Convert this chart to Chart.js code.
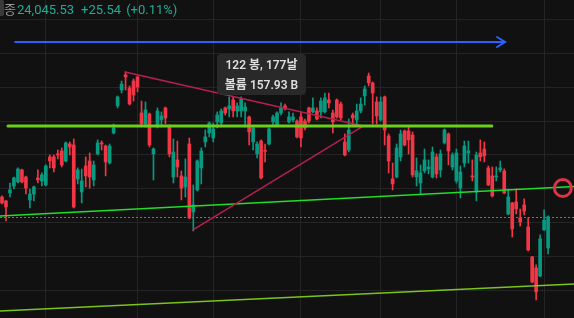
<!DOCTYPE html>
<html lang="ko">
<head>
<meta charset="utf-8">
<title>일봉 차트</title>
<script src="https://cdn.jsdelivr.net/npm/chart.js@4.4.1/dist/chart.umd.min.js"></script>
<style>
	html, body { margin: 0; padding: 0; background: #111111; }
	#wrap { position: relative; width: 574px; height: 318px; overflow: hidden; }
	#chart { position: absolute; left: 0; top: 0; }
	#legend { position: absolute; left: 4px; top: 2px; font: 13px Roboto, "Noto Sans CJK KR", sans-serif; line-height: 15px; color: #22ab94; white-space: nowrap; }
	#legend .name { color: #9a9a9a; margin-right: 1px; }
	#legend .chg { margin-left: 7px; }
	#legend .pct { margin-left: 5px; }
	#btn { position: absolute; left: 0; top: 0; width: 4px; height: 16px; background: #3a3a3a; border-radius: 0 2px 2px 0; }
</style>
</head>
<body>
<div id="wrap">
	<canvas id="chart" width="574" height="318"></canvas>
	<div id="legend"><span class="name">종</span><span id="last"></span><span class="chg" id="chg"></span><span class="pct" id="pct"></span></div>
	<div id="btn"></div>
</div>
<script>
// 일봉 OHLC (화면에서 읽은 값)
const opens = [
	24191, 24162, 24221, 24272, 24302, 24390, 24338, 24169, 24213, 24331,
	24309, 24280, 24486, 24486, 24508, 24530, 24456, 24581, 24574, 24324,
	24228, 24419, 24456, 24316, 24508, 24589, 24566, 24441, 24662, 24861,
	24978, 25089, 24993, 25044, 25074, 24809, 24728, 24802, 24508, 24721,
	24758, 24846, 24714, 24338, 24464, 24346, 24265, 24581, 24081, 24243,
	24405, 24596, 24662, 24625, 24743, 24736, 24846, 24839, 24905, 24824,
	24824, 24824, 24780, 24596, 24508, 24603, 24533, 24581, 24743, 24721,
	24809, 24861, 24743, 24758, 24750, 24780, 24750, 24846, 24817, 24824,
	24817, 24817, 24905, 24809, 24905, 24875, 24596, 24537, 24794, 24758,
	24824, 24934, 25081, 25030, 24890, 24758, 24927, 24640, 24324, 24338,
	24486, 24677, 24677, 24647, 24338, 24294, 24383, 24397, 24338, 24486,
	24390, 24589, 24655, 24412, 24309, 24257, 24441, 24515, 24346, 24228,
	24515, 24544, 24405, 24346, 24338, 24390, 24383, 24066, 24147, 24155,
	24037, 24133, 23971, 23750, 23670, 23611, 23949, 23816
];
const highs = [
	24199, 24166, 24294, 24338, 24405, 24397, 24345, 24250, 24272, 24390,
	24368, 24427, 24500, 24500, 24537, 24552, 24596, 24596, 24618, 24405,
	24397, 24486, 24515, 24456, 24611, 24603, 24574, 24581, 24728, 24934,
	25044, 25111, 25008, 25059, 25081, 24897, 24890, 24809, 24552, 24846,
	24817, 24853, 24721, 24618, 24603, 24383, 24471, 24625, 24280, 24464,
	24552, 24684, 24743, 24736, 24817, 24839, 24853, 24927, 24927, 24883,
	24927, 24883, 24787, 24706, 24596, 24611, 24581, 24699, 24794, 24817,
	24883, 24875, 24817, 24809, 24758, 24817, 24765, 24853, 24920, 24846,
	24920, 24956, 24956, 24831, 24912, 24890, 24655, 24765, 24809, 24875,
	24920, 25008, 25103, 25037, 24927, 24927, 24934, 24655, 24441, 24581,
	24684, 24684, 24706, 24670, 24478, 24427, 24544, 24464, 24559, 24508,
	24537, 24692, 24662, 24515, 24544, 24419, 24603, 24603, 24464, 24522,
	24611, 24596, 24419, 24412, 24412, 24456, 24397, 24250, 24152, 24250,
	24103, 24177, 24037, 23755, 23692, 23912, 24096, 24052
];
const lows = [
	24140, 24015, 24191, 24250, 24294, 24294, 24213, 24110, 24162, 24294,
	24272, 24272, 24405, 24375, 24471, 24412, 24449, 24500, 24110, 24287,
	24147, 24265, 24257, 24272, 24500, 24537, 24346, 24434, 24655, 24846,
	24956, 24978, 24868, 24897, 24964, 24721, 24706, 24559, 24316, 24699,
	24706, 24728, 24486, 24294, 24338, 24169, 24191, 24030, 23941, 24235,
	24287, 24559, 24633, 24596, 24699, 24706, 24794, 24780, 24780, 24780,
	24780, 24706, 24574, 24537, 24478, 24324, 24449, 24574, 24721, 24714,
	24794, 24831, 24736, 24743, 24625, 24559, 24684, 24736, 24809, 24758,
	24772, 24809, 24846, 24662, 24772, 24758, 24493, 24522, 24721, 24721,
	24809, 24868, 25008, 24728, 24728, 24750, 24574, 24368, 24243, 24331,
	24456, 24566, 24508, 24338, 24272, 24213, 24368, 24361, 24331, 24331,
	24338, 24581, 24427, 24390, 24294, 24184, 24412, 24441, 24309, 24162,
	24456, 24449, 24275, 24191, 24309, 24375, 24215, 24060, 23897, 24066,
	23978, 24059, 23795, 23559, 23434, 23605, 23945, 23772
];
const closes = [
	24147, 24118, 24243, 24331, 24397, 24302, 24257, 24213, 24265, 24316,
	24353, 24419, 24456, 24405, 24500, 24427, 24589, 24559, 24118, 24390,
	24309, 24346, 24338, 24427, 24589, 24581, 24449, 24566, 24699, 24927,
	25022, 25074, 24875, 24942, 25000, 24728, 24831, 24574, 24544, 24824,
	24787, 24772, 24508, 24522, 24412, 24257, 24338, 24037, 24133, 24456,
	24530, 24633, 24736, 24692, 24794, 24824, 24809, 24861, 24824, 24861,
	24912, 24853, 24670, 24699, 24581, 24331, 24527, 24692, 24780, 24809,
	24846, 24839, 24780, 24780, 24633, 24625, 24699, 24750, 24846, 24765,
	24897, 24920, 24883, 24743, 24780, 24772, 24500, 24684, 24772, 24824,
	24875, 24986, 25030, 24956, 24787, 24890, 24684, 24456, 24287, 24552,
	24655, 24574, 24611, 24353, 24383, 24368, 24464, 24412, 24522, 24361,
	24508, 24684, 24530, 24500, 24515, 24375, 24566, 24530, 24338, 24500,
	24486, 24493, 24280, 24199, 24346, 24405, 24221, 24191, 23956, 24103,
	24008, 24088, 23802, 23566, 23493, 23883, 24019.99, 24045.53
];

// 월 시작 봉 (세로 그리드)
const monthStarts = [ 11, 34, 53, 75, 95, 114, 136 ];
// 오른쪽 빈 공간 봉 수
const rightMargin = 6;

// 그리기 도구 (봉 번호, 가격)
const rangeArrow = [ [ 3.3, 25331 ], [ 126.2, 25331 ] ];
const resistLine = [ [ 1.5, 24713 ], [ 122.9, 24713 ] ];
const upperTrend = [ [ -0.5, 24052 ], [ 143.5, 24268 ] ];
const lowerTrend = [ [ -0.5, 23353 ], [ 143.5, 23551 ] ];
const wedgeTop = [ [ 30.9, 25110 ], [ 90.6, 24713 ] ];
const wedgeBottom = [ [ 47.9, 23949 ], [ 90.6, 24713 ] ];
const circleMark = [ 140.7, 24257 ];
const measureAnchor = [ 65.1, 25092 ];
const measureBars = 122;
const measureDays = 177;
const measureVolume = '157.93 B';

const lastClose = 24045.53;
const change = 25.54;
const changePct = 0.11;

const UP = '#089981';
const DOWN = '#f23645';
const GRID = '#242424';

const fmt = v => v.toLocaleString( 'en-US', { minimumFractionDigits: 2, maximumFractionDigits: 2 } );
document.getElementById( 'last' ).textContent = fmt( lastClose );
document.getElementById( 'chg' ).textContent = '+' + fmt( change );
document.getElementById( 'pct' ).textContent = '(+' + fmt( changePct ) + '%)';

const labels = [];
for ( let i = 0; i < opens.length + rightMargin; i++ ) {
	labels.push( String( i + 1 ) );
}
const colors = opens.map( ( o, i ) => ( closes[ i ] >= o ? UP : DOWN ) );

const overlays = {
	id: 'overlays',
	beforeDatasetsDraw( chart ) {
		// 현재가 점선
		const ctx = chart.ctx;
		const y = Math.round( chart.scales.y.getPixelForValue( lastClose ) ) + 0.5;
		ctx.save();
		ctx.strokeStyle = '#1f9e89';
		ctx.lineWidth = 1;
		ctx.setLineDash( [ 2, 2 ] );
		ctx.beginPath();
		ctx.moveTo( chart.chartArea.left, y );
		ctx.lineTo( chart.chartArea.right, y );
		ctx.stroke();
		ctx.restore();
	},
	afterDatasetsDraw( chart ) {
		const ctx = chart.ctx;
		const xs = chart.scales.x;
		const ys = chart.scales.y;
		const pt = p => [ xs.getPixelForValue( p[ 0 ] ), ys.getPixelForValue( p[ 1 ] ) ];
		const seg = ( line, color, width ) => {
			const a = pt( line[ 0 ] );
			const b = pt( line[ 1 ] );
			ctx.strokeStyle = color;
			ctx.lineWidth = width;
			ctx.beginPath();
			ctx.moveTo( a[ 0 ], a[ 1 ] );
			ctx.lineTo( b[ 0 ], b[ 1 ] );
			ctx.stroke();
		};
		ctx.save();
		ctx.lineCap = 'round';
		seg( lowerTrend, '#7cc41c', 1.5 );
		seg( upperTrend, '#22dd2a', 1.5 );
		seg( wedgeTop, '#b81e52', 1.5 );
		seg( wedgeBottom, '#b81e52', 1.5 );
		seg( resistLine, '#6ccf1c', 3 );

		// 화살표
		seg( rangeArrow, '#2962ff', 2 );
		const tip = pt( rangeArrow[ 1 ] );
		ctx.beginPath();
		ctx.moveTo( tip[ 0 ] - 8, tip[ 1 ] - 5 );
		ctx.lineTo( tip[ 0 ], tip[ 1 ] );
		ctx.lineTo( tip[ 0 ] - 8, tip[ 1 ] + 5 );
		ctx.stroke();

		// 원
		const c = pt( circleMark );
		ctx.strokeStyle = '#dd3348';
		ctx.lineWidth = 3;
		ctx.beginPath();
		ctx.arc( c[ 0 ], c[ 1 ], 8.5, 0, Math.PI * 2 );
		ctx.stroke();

		// 측정 라벨
		const m = pt( measureAnchor );
		const w = 89;
		const h = 41;
		ctx.fillStyle = 'rgba(42, 42, 42, 0.97)';
		ctx.beginPath();
		ctx.roundRect( m[ 0 ] - w / 2, m[ 1 ] - h / 2, w, h, 4 );
		ctx.fill();
		ctx.fillStyle = '#dedede';
		ctx.font = '600 12px Roboto, "Noto Sans CJK KR", sans-serif';
		ctx.textAlign = 'center';
		ctx.textBaseline = 'middle';
		ctx.fillText( measureBars + ' 봉, ' + measureDays + '날', m[ 0 ], m[ 1 ] - 9 );
		ctx.fillText( '볼륨 ' + measureVolume, m[ 0 ], m[ 1 ] + 11 );
		ctx.restore();
	}
};

new Chart( document.getElementById( 'chart' ), {
	type: 'bar',
	data: {
		labels: labels,
		datasets: [ {
			label: 'body',
			data: opens.map( ( o, i ) => [ o, closes[ i ] ] ),
			backgroundColor: colors,
			barThickness: 3,
			minBarLength: 1,
			borderWidth: 0,
			grouped: false,
			order: 1
		}, {
			label: 'wick',
			data: lows.map( ( l, i ) => [ l, highs[ i ] ] ),
			backgroundColor: colors,
			barThickness: 1,
			borderWidth: 0,
			grouped: false,
			order: 2
		} ]
	},
	options: {
		responsive: false,
		animation: false,
		events: [],
		layout: { padding: 0 },
		plugins: {
			legend: { display: false },
			tooltip: { enabled: false }
		},
		scales: {
			x: {
				offset: true,
				grid: {
					offset: false,
					drawTicks: false,
					color: ctx => ( monthStarts.includes( ctx.index ) ? GRID : 'rgba(0,0,0,0)' )
				},
				border: { display: false },
				ticks: { display: false }
			},
			y: {
				min: 23301,
				max: 25640,
				grid: { drawTicks: false, color: GRID },
				border: { display: false },
				ticks: { display: false, stepSize: 250, includeBounds: false }
			}
		}
	},
	plugins: [ overlays ]
} );
</script>
</body>
</html>
